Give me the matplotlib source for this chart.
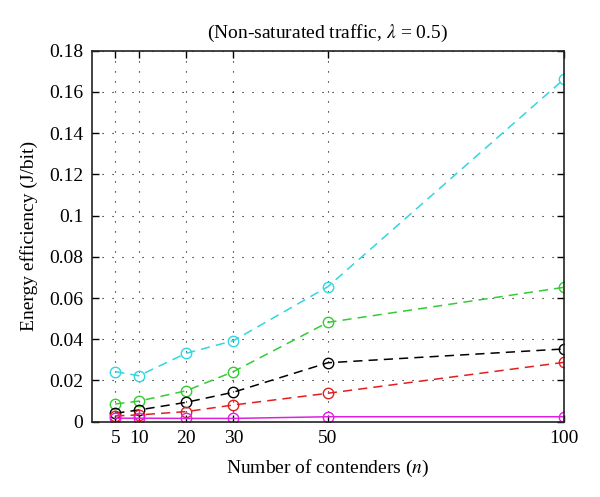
import numpy as np
import matplotlib
matplotlib.use('Agg')
import matplotlib.pyplot as plt

plt.rcParams['font.family'] = ['Liberation Serif', 'DejaVu Serif']
plt.rcParams['mathtext.fontset'] = 'stix'

n = [5, 10, 20, 30, 50, 100]
cyan = [0.0243, 0.0223, 0.0332, 0.0393, 0.0655, 0.1662]
green = [0.0086, 0.0100, 0.0150, 0.0243, 0.0482, 0.0652]
black = [0.0041, 0.0057, 0.0094, 0.0143, 0.0286, 0.0353]
red = [0.0028, 0.0033, 0.0049, 0.0081, 0.0138, 0.0288]
magenta = [0.0017, 0.0017, 0.0016, 0.0016, 0.0024, 0.0024]

yticks = [0, 0.02, 0.04, 0.06, 0.08, 0.1, 0.12, 0.14, 0.16, 0.18]
ytick_labels = ['0', '0.02', '0.04', '0.06', '0.08', '0.1', '0.12', '0.14', '0.16', '0.18']

fig = plt.figure(figsize=(6.0, 4.97), dpi=100)
ax = fig.add_axes([0.1528, 0.1515, 0.94 - 0.1528, 0.898 - 0.1515])

mk = dict(marker='o', markersize=7.5, markerfacecolor='none', markeredgewidth=1.0, lw=1.1)
dash = (0, (6, 4))
ax.plot(n, cyan, color='#33d6e0', linestyle=dash, markeredgecolor='#33d6e0', **mk)
ax.plot(n, green, color='#33cc33', linestyle=dash, markeredgecolor='#33cc33', **mk)
ax.plot(n, black, color='black', linestyle=dash, markeredgecolor='black', **mk)
ax.plot(n, red, color='#e02020', linestyle=dash, markeredgecolor='#e02020', **mk)
ax.plot(n, magenta, color='#e020e0', linestyle='-', markeredgecolor='#e020e0', **mk)

ax.set_xlim(0, 100)
ax.set_ylim(0, 0.18)
ax.set_xticks(n)
ax.set_xticklabels([str(v) for v in n])
ax.set_yticks(yticks)
ax.set_yticklabels(ytick_labels)

ax.grid(True, linestyle=(0, (1, 8)), color='black', linewidth=0.8)
ax.tick_params(direction='in', top=True, right=True, length=5, width=1.0,
               labelsize=14, pad=6)
for s in ax.spines.values():
    s.set_linewidth(1.2)
    s.set_color('#222222')

ax.set_xlabel('Number of contenders ($n$)', fontsize=14, labelpad=8)
ax.set_ylabel('Energy efficiency (J/bit)', fontsize=14, labelpad=8)
ax.set_title(r'(Non-saturated traffic, $\lambda$ = 0.5)', fontsize=14, pad=9)

plt.savefig('out.png', dpi=100)
